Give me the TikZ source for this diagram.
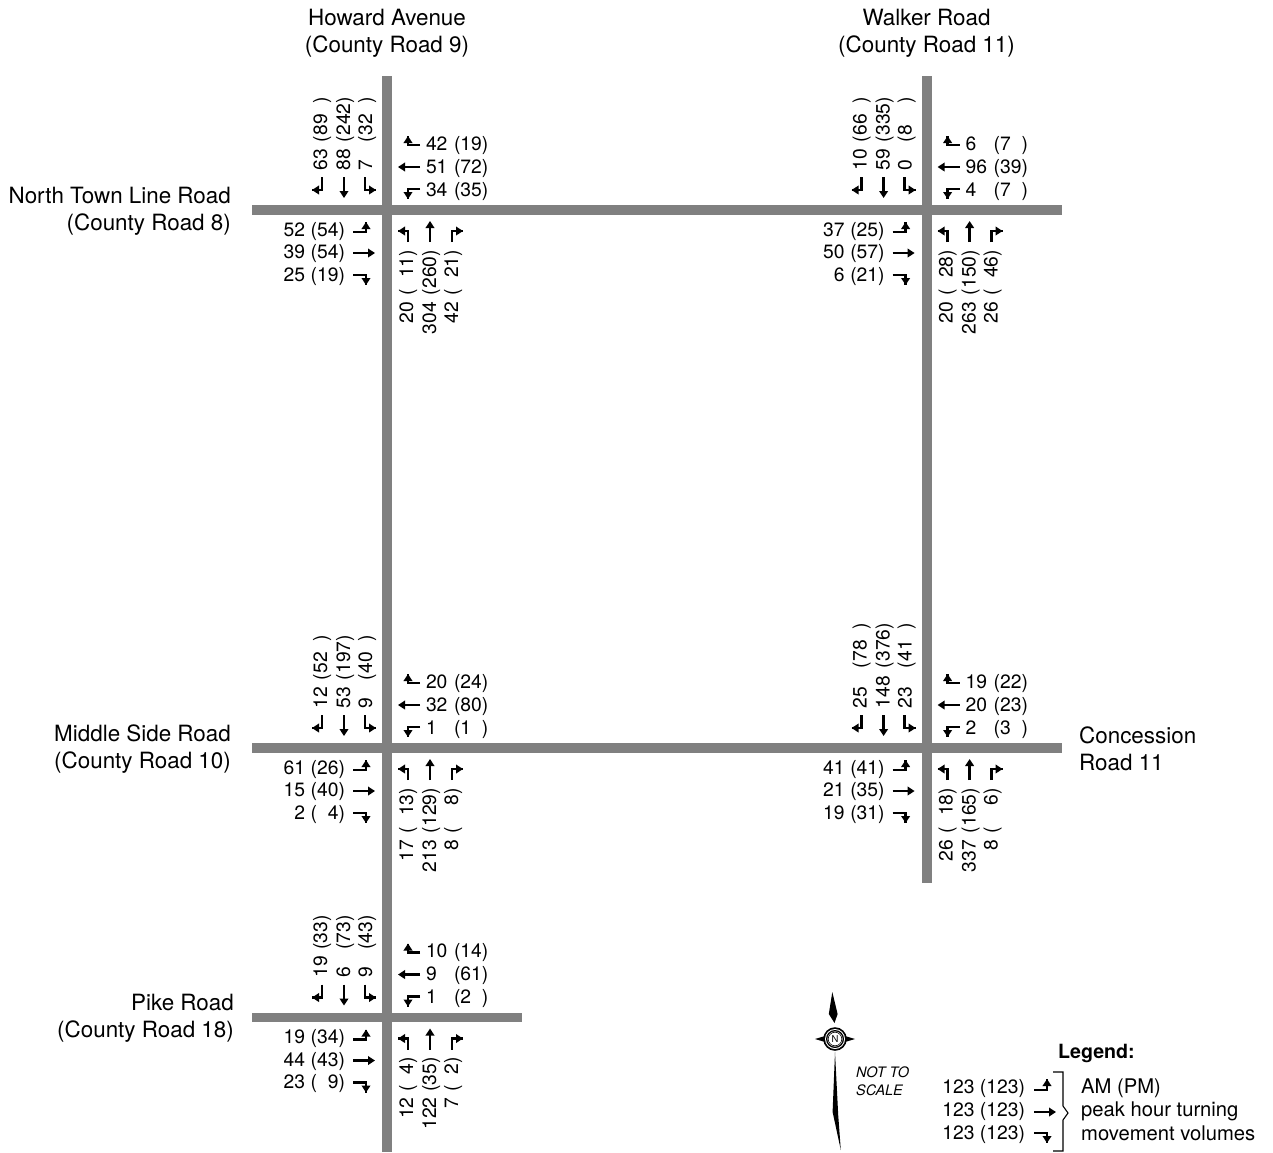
\documentclass[tikz,border=0pt]{standalone}
\usepackage{fontspec}
\setmainfont{TeX Gyre Heros}
\usetikzlibrary{arrows.meta}
\definecolor{roadgrey}{HTML}{808080}
\newcommand{\ph}[1][0]{\phantom{#1}}
\tikzset{
  road/.style={draw=roadgrey,line width=9.8pt},
  shaft/.style={line width=2.9pt,miter limit=10,black},
  mv/.style={line width=2.9pt,-{Triangle[length=7pt,width=8.6pt]},black},
  vol/.style={inner sep=0pt,outer sep=0pt,font=\fontsize{19.3}{22}\selectfont},
  volw/.style={vol,anchor=base west},
  vole/.style={vol,anchor=base east},
  volnw/.style={vol,rotate=90,anchor=base west},
  volne/.style={vol,rotate=90,anchor=base east},
  roadlabel/.style={inner sep=0pt,font=\fontsize{22.4}{27}\selectfont},
  legtext/.style={inner sep=0pt,anchor=base west,font=\fontsize{20.2}{23}\selectfont},
  needle/.style={fill=black,draw=none}
}
% turning arrow: start, corner, tip
\newcommand{\turnarrow}[3]{
  \draw[shaft] #1 -- #2 -- #3;
  \draw[mv] #2 -- #3;
}
% #1 prefix #2 PM offset, then am/pm pairs left to right
\newcommand{\volnorth}[8]{
  \node[volnw] (#1na1) at (-60,-40) {#3};
  \node[volnw] (#1np1) at (-60,#2) {#4};
  \node[volnw] (#1na2) at (-37,-40) {#5};
  \node[volnw] (#1np2) at (-37,#2) {#6};
  \node[volnw] (#1na3) at (-15,-40) {#7};
  \node[volnw] (#1np3) at (-15,#2) {#8};
}
% #2 y of AM end
\newcommand{\volsouth}[8]{
  \node[volne] (#1sa1) at (26,#2) {#3};
  \node[volne] (#1sp1) at (26,40) {#4};
  \node[volne] (#1sa2) at (49,#2) {#5};
  \node[volne] (#1sp2) at (49,40) {#6};
  \node[volne] (#1sa3) at (71,#2) {#7};
  \node[volne] (#1sp3) at (71,40) {#8};
}
\newcommand{\voleast}[7]{
  \node[volw] (#1ea1) at (39,-60) {#2};
  \node[volw] (#1ep1) at (67,-60) {#3};
  \node[volw] (#1ea2) at (39,-37) {#4};
  \node[volw] (#1ep2) at (67,-37) {#5};
  \node[volw] (#1ea3) at (39,-14) {#6};
  \node[volw] (#1ep3) at (67,-14) {#7};
}
\newcommand{\volwest}[7]{
  \node[vole] (#1wa1) at (-82,26) {#2};
  \node[vole] (#1wp1) at (-42,26) {#3};
  \node[vole] (#1wa2) at (-82,48.5) {#4};
  \node[vole] (#1wp2) at (-42,48.5) {#5};
  \node[vole] (#1wa3) at (-82,71) {#6};
  \node[vole] (#1wp3) at (-42,71) {#7};
}
\newcommand{\movearrows}{
  \turnarrow{(-65,-33)}{(-65,-20)}{(-75,-20)}
  \draw[mv] (-43,-33) -- (-43,-12);
  \turnarrow{(-22,-33)}{(-22,-20)}{(-11,-20)}
  \turnarrow{(33,-65)}{(21,-65)}{(21,-74)}
  \draw[mv] (33,-43) -- (11,-43);
  \turnarrow{(33,-21)}{(21,-21)}{(21,-11)}
  \turnarrow{(-34,22)}{(-21,22)}{(-21,12)}
  \draw[mv] (-34,43) -- (-12,43);
  \turnarrow{(-34,65)}{(-21,65)}{(-21,75)}
  \turnarrow{(21,32)}{(21,21)}{(11,21)}
  \draw[mv] (43,32) -- (43,11);
  \turnarrow{(65,32)}{(65,21)}{(76,21)}
}
\begin{document}
\begin{tikzpicture}[x=1pt,y=-1pt]
\useasboundingbox (0,0) rectangle (1273,1152);
% roads
\coordinate (hN) at (387,76); \coordinate (hS) at (387,1152);
\coordinate (wN) at (926.6,76); \coordinate (wS) at (926.6,883);
\coordinate (tW) at (252,210); \coordinate (tE) at (1062,210);
\coordinate (mW) at (252,748); \coordinate (mE) at (1062,748);
\coordinate (pW) at (252,1017.5); \coordinate (pE) at (522,1017.5);
\draw[road] (tW) -- (tE);
\draw[road] (mW) -- (mE);
\draw[road] (pW) -- (pE);
\draw[road] (hN) -- (hS);
\draw[road] (wN) -- (wS);
% road labels
\node[roadlabel,align=center] (howard) at (387,33.5) {Howard Avenue\\(County Road 9)};
\node[roadlabel,align=center] (walker) at (926.5,33.5) {Walker Road\\(County Road 11)};
\node[roadlabel,align=right,anchor=east] (ntl) at (231,211.5) {North Town Line Road\\(County Road 8)};
\node[roadlabel,align=right,anchor=east] (msr) at (231,749.5) {Middle Side Road\\(County Road 10)};
\node[roadlabel,align=right,anchor=east] (pike) at (234,1018.5) {Pike Road\\(County Road 18)};
\node[roadlabel,align=left,anchor=west] (con) at (1079,748.7) {Concession\\Road 11};
% Howard / North Town Line
\begin{scope}[shift={(387,210)}]
\movearrows
\volnorth{a}{-68}{63}{(89\ph)}{88}{(242)}{7}{(32\ph)}
\volsouth{a}{92}{20}{(\ph 11)}{304}{(260)}{42}{(\ph 21)}
\voleast{a}{42}{(19)}{51}{(72)}{34}{(35)}
\volwest{a}{52}{(54)}{39}{(54)}{25}{(19)}
\end{scope}
% Walker / North Town Line
\begin{scope}[shift={(926.6,210)}]
\movearrows
\volnorth{b}{-68}{10}{(66\ph)}{59}{(335)}{0}{(8\ph\ph)}
\volsouth{b}{92}{20}{(\ph 28)}{263}{(150)}{26}{(\ph 46)}
\voleast{b}{6}{(7\ph)}{96}{(39)}{4}{(7\ph)}
\volwest{b}{37}{(25)}{50}{(57)}{6}{(21)}
\end{scope}
% Howard / Middle Side
\begin{scope}[shift={(387,748)}]
\movearrows
\volnorth{c}{-68}{12}{(52\ph)}{53}{(197)}{9}{(40\ph)}
\volsouth{c}{92}{17}{(\ph 13)}{213}{(129)}{8}{(\ph\ph 8)}
\voleast{c}{20}{(24)}{32}{(80)}{1}{(1\ph)}
\volwest{c}{61}{(26)}{15}{(40)}{2}{(\ph 4)}
\end{scope}
% Walker / Concession
\begin{scope}[shift={(926.6,748)}]
\movearrows
\volnorth{d}{-80}{25}{(78\ph)}{148}{(376)}{23}{(41\ph)}
\volsouth{d}{92}{26}{(\ph 18)}{337}{(165)}{8}{(\ph\ph 6)}
\voleast{d}{19}{(22)}{20}{(23)}{2}{(3\ph)}
\volwest{d}{41}{(41)}{21}{(35)}{19}{(31)}
\end{scope}
% Howard / Pike
\begin{scope}[shift={(387,1017.5)}]
\movearrows
\volnorth{e}{-68}{19}{(33)}{6}{(73)}{9}{(43)}
\volsouth{e}{80}{12}{(\ph 4)}{122}{(35)}{7}{(\ph 2)}
\voleast{e}{10}{(14)}{9}{(61)}{1}{(2\ph)}
\volwest{e}{19}{(34)}{44}{(43)}{23}{(\ph 9)}
\end{scope}
% north arrow
\path[needle] (832.3,992) -- (837.6,1014) -- (834.5,1023) -- (828.8,1014) -- cycle;
\path[needle] (835,1052) -- (838.2,1115) -- (840.8,1150) -- (832.6,1112) -- cycle;
\path[needle] (815,1039) -- (825,1036) -- (845,1036) -- (855,1039) -- (845,1042) -- (825,1042) -- cycle;
\fill[black] (835,1039) circle [radius=11.8];
\fill[white] (835,1039) circle [radius=10];
\fill[black] (835,1039) circle [radius=9];
\fill[white] (835,1039) circle [radius=7.6];
\draw[black,line width=0.6pt] (835,1039) circle [radius=6.8];
\node[inner sep=0pt,font=\fontsize{9.5}{12}\selectfont] (northN) at (835,1039) {N};
\node[inner sep=0pt,anchor=west,align=left,font=\fontsize{14.4}{17.5}\selectfont\itshape] (nts) at (856,1081) {NOT TO\\SCALE};
% legend
\node[inner sep=0pt,font=\fontsize{19.6}{22}\selectfont\bfseries,anchor=base west] (legend) at (1058,1058) {Legend:};
\node[vol,anchor=base east] (l1) at (1025,1093.5) {123 (123)};
\node[vol,anchor=base east] (l2) at (1025,1116.5) {123 (123)};
\node[vol,anchor=base east] (l3) at (1025,1139.5) {123 (123)};
\turnarrow{(1034,1090)}{(1047,1090)}{(1047,1079)}
\draw[mv] (1034,1112) -- (1056,1112);
\turnarrow{(1034,1133)}{(1047,1133)}{(1047,1143)}
\draw[black,line width=1.1pt] (1053,1072) -- (1063,1072) -- (1063,1106) -- (1068,1113) -- (1063,1120) -- (1063,1151) -- (1053,1151);
\node[legtext] (t1) at (1081,1093) {AM (PM)};
\node[legtext] (t2) at (1081,1116.5) {peak hour turning};
\node[legtext] (t3) at (1081,1140) {movement volumes};
\end{tikzpicture}
\end{document}
